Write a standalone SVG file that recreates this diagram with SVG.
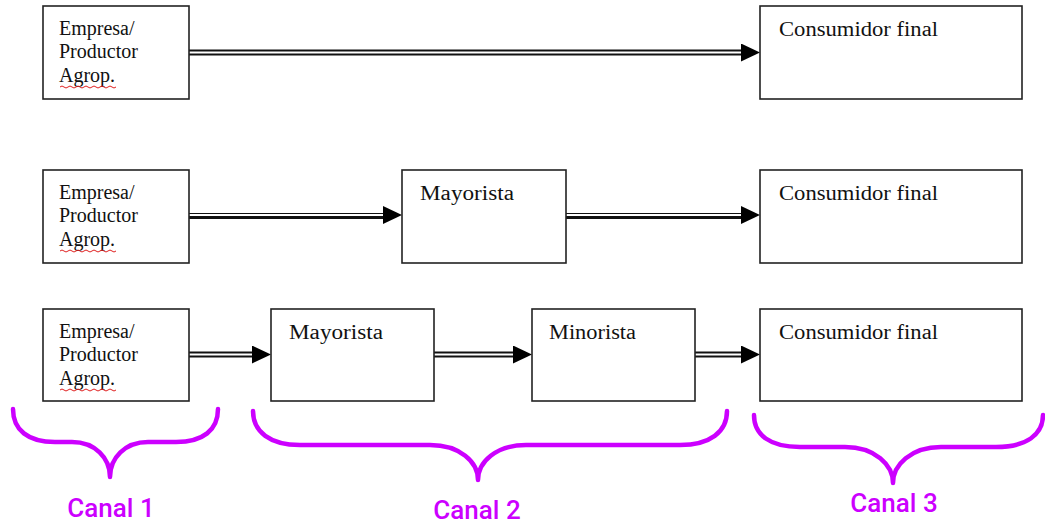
<svg xmlns="http://www.w3.org/2000/svg" width="1045" height="523" viewBox="0 0 1045 523">
<style>
.box{fill:#fff;stroke:#222;stroke-width:1.6}
.t{font-family:"Liberation Serif","Times New Roman",serif;font-size:20px;fill:#111}
.ob{stroke:#111;stroke-width:6;fill:none}
.ib{stroke:#fff;stroke-width:2;fill:none}
.brace{fill:none;stroke:#cc00ff;stroke-width:4.5;stroke-linecap:round;stroke-linejoin:round}
.lab{font-family:Roboto,"Noto Sans",sans-serif;font-size:26px;font-weight:500;fill:#cc00ff;text-anchor:middle}
.sq{fill:none;stroke:#e02020;stroke-width:1}
</style>
<defs>
<marker id="ah" viewBox="0 0 19 18" refX="19" refY="9" markerWidth="19" markerHeight="18" markerUnits="userSpaceOnUse" orient="auto">
<path d="M0,0 L19,9 L0,18 z" fill="#000"/>
</marker>
</defs>

<g id="connectors">
<path class="ob" d="M189 52.5 H745"/><path class="ib" d="M189 52.5 H760" marker-end="url(#ah)"/>
<path class="ob" d="M189 216 H386"/><path class="ib" d="M189 215 H402" marker-end="url(#ah)"/>
<path class="ob" d="M566 216 H745"/><path class="ib" d="M566 215 H760" marker-end="url(#ah)"/>
<path class="ob" d="M189 354.5 H256"/><path class="ib" d="M189 354.5 H271" marker-end="url(#ah)"/>
<path class="ob" d="M434 354.5 H517"/><path class="ib" d="M434 354.5 H532" marker-end="url(#ah)"/>
<path class="ob" d="M695 354.5 H745"/><path class="ib" d="M695 354.5 H760" marker-end="url(#ah)"/>
</g>

<g id="n1-empresa">
<rect class="box" x="43" y="6" width="146" height="93"/>
<text class="t" x="59" y="35">Empresa/</text>
<text class="t" x="59" y="58">Productor</text>
<text class="t" x="59" y="82">Agrop.</text>
<path class="sq" d="M60 87 q2 -2 4 0 t4 0 t4 0 t4 0 t4 0 t4 0 t4 0 t4 0 t4 0 t4 0 t4 0 t4 0 t4 0 t4 0"/>
</g>
<g id="n1-consumidor">
<rect class="box" x="760" y="6" width="262" height="93"/>
<text class="t" x="779" y="36" textLength="159" lengthAdjust="spacingAndGlyphs">Consumidor final</text>
</g>

<g id="n2-empresa">
<rect class="box" x="43" y="170" width="146" height="93"/>
<text class="t" x="59" y="199">Empresa/</text>
<text class="t" x="59" y="222">Productor</text>
<text class="t" x="59" y="246">Agrop.</text>
<path class="sq" d="M60 251 q2 -2 4 0 t4 0 t4 0 t4 0 t4 0 t4 0 t4 0 t4 0 t4 0 t4 0 t4 0 t4 0 t4 0 t4 0"/>
</g>
<g id="n2-mayorista">
<rect class="box" x="402" y="170" width="164" height="93"/>
<text class="t" x="420" y="200" textLength="94" lengthAdjust="spacingAndGlyphs">Mayorista</text>
</g>
<g id="n2-consumidor">
<rect class="box" x="760" y="170" width="262" height="93"/>
<text class="t" x="779" y="200" textLength="159" lengthAdjust="spacingAndGlyphs">Consumidor final</text>
</g>

<g id="n3-empresa">
<rect class="box" x="43" y="309" width="146" height="92"/>
<text class="t" x="59" y="338">Empresa/</text>
<text class="t" x="59" y="361">Productor</text>
<text class="t" x="59" y="385">Agrop.</text>
<path class="sq" d="M60 390 q2 -2 4 0 t4 0 t4 0 t4 0 t4 0 t4 0 t4 0 t4 0 t4 0 t4 0 t4 0 t4 0 t4 0 t4 0"/>
</g>
<g id="n3-mayorista">
<rect class="box" x="271" y="309" width="163" height="92"/>
<text class="t" x="289" y="339" textLength="94" lengthAdjust="spacingAndGlyphs">Mayorista</text>
</g>
<g id="n3-minorista">
<rect class="box" x="532" y="309" width="163" height="92"/>
<text class="t" x="549" y="339" textLength="87" lengthAdjust="spacingAndGlyphs">Minorista</text>
</g>
<g id="n3-consumidor">
<rect class="box" x="760" y="309" width="262" height="92"/>
<text class="t" x="779" y="339" textLength="159" lengthAdjust="spacingAndGlyphs">Consumidor final</text>
</g>

<g id="braces">
<path class="brace" d="M13 409 C13 430 28 442 55 442 L72 442 C95 442 110 458 110 477 C110 458 125 442 148 442 L176 442 C203 442 218 430 218 409"/>
<path class="brace" d="M253 411 C253 432 270 445 300 445 L430 445 C460 445 478 462 478 480 C478 462 496 445 526 445 L680 445 C710 445 727 432 727 411"/>
<path class="brace" d="M754 415 C754 435 770 447 800 447 L845 447 C875 447 893 465 893 483 C893 465 911 447 941 447 L996 447 C1026 447 1043 435 1043 415"/>
</g>

<g id="labels">
<text class="lab" x="111" y="517">Canal 1</text>
<text class="lab" x="477" y="519">Canal 2</text>
<text class="lab" x="894" y="512">Canal 3</text>
</g>
</svg>
